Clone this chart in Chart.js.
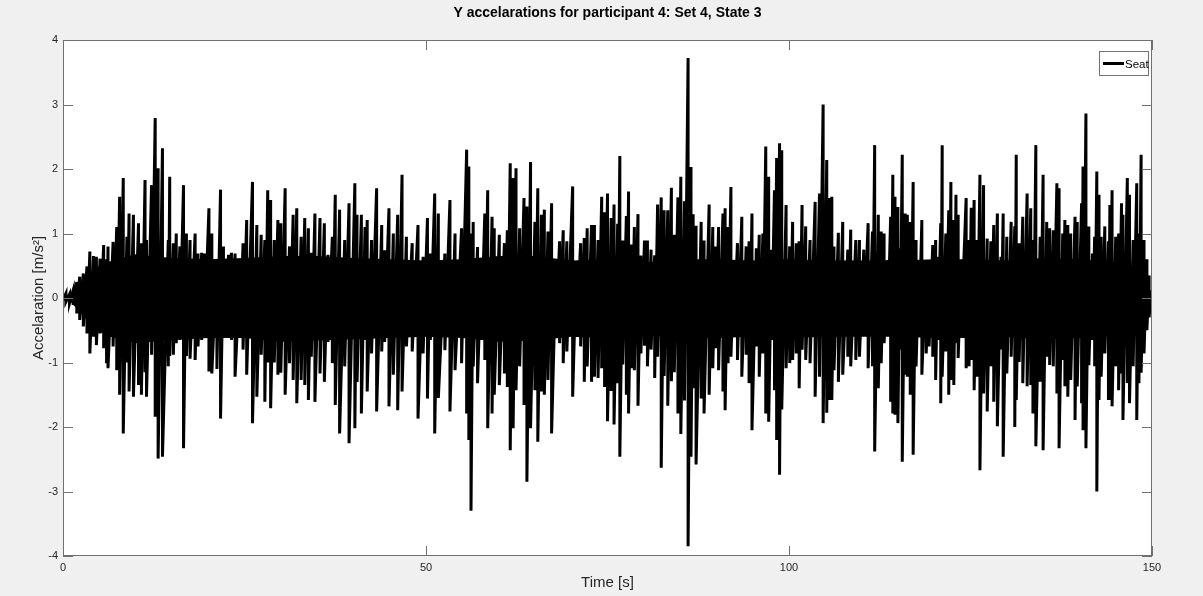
<!DOCTYPE html>
<html>
<head>
<meta charset="utf-8">
<title>Y accelarations</title>
<script src="https://cdn.jsdelivr.net/npm/chart.js@4.4.1/dist/chart.umd.min.js"></script>
<style>
  html, body { margin: 0; padding: 0; background: #f0f0f0; }
  #wrap { width: 1203px; height: 596px; position: relative; }
</style>
</head>
<body>
<div id="wrap"><canvas id="seatChart"></canvas></div>
<script>
// DATA
const chartTitle = 'Y accelarations for participant 4: Set 4, State 3';
const xLabel = 'Time [s]';
const yLabel = 'Accelaration [m/s²]';
const seriesName = 'Seat';
const xTicks = [0, 50, 100, 150];
const yTicks = [-4, -3, -2, -1, 0, 1, 2, 3, 4];

// peaks of the seat signal [s], max and min [m/s2]
const peakTime = [
  0.0, 0.4, 0.9, 1.4, 1.9, 2.3, 2.8, 3.3, 3.7, 4.2, 4.6, 5.1, 5.6, 6.0, 6.2, 6.9, 7.4, 7.8, 8.3, 8.8,
  9.1, 9.7, 10.4, 10.8, 11.3, 11.5, 12.2, 12.7, 13.1, 13.7, 14.5, 14.7, 15.2, 15.6, 16.1, 16.6, 17.0, 17.5, 18.2, 18.6,
  19.1, 19.5, 20.1, 20.5, 21.2, 21.7, 22.1, 22.8, 23.2, 23.7, 24.4, 24.8, 25.3, 26.1, 26.7, 27.3, 27.8, 28.2, 28.6, 29.1,
  29.6, 30.0, 30.6, 31.2, 31.7, 32.2, 32.8, 33.3, 33.8, 34.2, 34.7, 35.4, 36.0, 36.5, 37.1, 37.5, 38.1, 38.8, 39.4, 40.2,
  40.5, 41.1, 41.6, 41.9, 42.5, 43.2, 43.9, 44.3, 44.9, 45.5, 46.1, 46.7, 47.3, 48.1, 48.9, 49.6, 50.2, 50.6, 51.2, 51.7,
  52.6, 53.3, 54.0, 54.9, 55.6, 55.9, 56.2, 56.5, 57.1, 57.6, 58.1, 58.5, 59.1, 59.4, 60.1, 60.8, 61.2, 61.6, 62.0, 62.4,
  62.9, 63.5, 63.9, 64.4, 65.0, 65.4, 65.9, 66.3, 66.8, 67.3, 67.9, 68.4, 68.9, 69.4, 70.2, 70.7, 71.3, 71.8, 72.2, 72.8,
  73.2, 73.7, 74.2, 74.6, 75.0, 75.5, 75.9, 76.4, 76.7, 77.1, 77.6, 77.9, 78.3, 78.7, 79.2, 79.6, 80.1, 80.5, 81.0, 81.5,
  81.9, 82.4, 82.8, 83.3, 83.8, 84.2, 84.7, 85.1, 85.6, 86.1, 86.5, 86.8, 87.2, 87.9, 88.3, 89.0, 89.5, 89.9, 90.3, 90.9,
  91.2, 91.6, 92.0, 92.4, 92.9, 93.5, 94.1, 94.5, 94.9, 95.5, 95.9, 96.4, 96.8, 97.2, 97.6, 98.0, 98.3, 98.7, 99.0, 99.6,
  100.1, 100.5, 101.0, 101.4, 101.8, 102.3, 102.9, 103.6, 104.2, 104.7, 105.2, 105.5, 105.9, 106.2, 106.8, 107.4, 108.1, 108.5, 109.2, 109.7,
  110.3, 110.9, 111.5, 111.8, 112.3, 112.7, 113.1, 113.6, 114.0, 114.3, 114.6, 115.0, 115.3, 115.6, 116.0, 116.3, 116.7, 117.1, 117.5, 117.9,
  118.3, 118.9, 119.3, 119.8, 120.2, 120.5, 120.9, 121.1, 121.6, 122.0, 122.3, 122.7, 123.0, 123.3, 123.7, 124.4, 124.8, 125.1, 125.5, 125.9,
  126.3, 126.8, 127.3, 127.8, 128.2, 128.7, 129.2, 129.5, 130.0, 130.6, 131.1, 131.3, 131.7, 132.2, 132.8, 133.3, 133.6, 134.0, 134.6, 135.0,
  135.5, 135.9, 136.4, 136.9, 137.2, 137.7, 138.0, 138.4, 138.8, 139.4, 139.7, 140.3, 140.5, 140.9, 141.3, 141.8, 142.1, 142.4, 142.7, 143.0,
  143.5, 144.0, 144.2, 144.5, 145.0, 145.4, 145.8, 146.0, 146.6, 146.9, 147.4, 147.9, 148.2, 148.5, 148.9, 149.3, 149.6, 149.9, 150.0
];
const peakHigh = [
  0.03, 0.07, 0.06, 0.12, 0.25, 0.33, 0.38, 0.49, 0.72, 0.65, 0.64, 0.61, 0.82, 0.6, 0.8, 0.87, 1.1, 1.57, 1.86, 0.95,
  1.31, 1.29, 1.16, 0.85, 1.83, 0.9, 1.75, 2.79, 2.01, 2.32, 0.9, 1.88, 0.85, 1.0, 0.8, 1.75, 1.0, 0.9, 1.0, 0.69,
  0.7, 0.69, 1.39, 1.0, 0.59, 1.68, 0.8, 0.67, 0.7, 0.69, 0.48, 0.85, 1.21, 1.8, 1.13, 0.98, 0.9, 1.67, 1.52, 0.9,
  1.21, 1.16, 1.7, 0.8, 1.29, 1.39, 0.95, 1.24, 1.08, 0.7, 1.31, 1.24, 1.16, 0.67, 0.95, 1.6, 1.37, 0.9, 1.47, 1.78,
  1.29, 1.29, 1.1, 1.21, 0.9, 1.7, 1.13, 0.74, 1.39, 1.0, 1.29, 1.91, 0.95, 0.85, 1.13, 0.64, 1.24, 0.69, 1.62, 1.31,
  0.69, 1.52, 1.0, 1.08, 2.3, 2.04, 1.0, 1.18, 0.79, 0.54, 1.31, 1.67, 1.26, 1.08, 0.98, 0.85, 1.05, 2.09, 1.86, 2.01,
  1.08, 1.55, 1.42, 2.11, 1.18, 1.7, 1.29, 1.37, 1.03, 1.47, 0.54, 0.88, 1.05, 0.88, 1.73, 0.51, 0.85, 0.93, 1.08, 1.13,
  1.13, 0.9, 1.57, 1.33, 1.62, 1.24, 1.45, 1.15, 2.2, 0.89, 1.27, 1.65, 0.83, 1.1, 1.3, 0.66, 0.89, 0.89, 0.75, 0.66,
  1.45, 1.56, 1.36, 1.36, 1.71, 0.98, 1.56, 1.88, 1.5, 3.72, 2.03, 1.3, 1.12, 1.18, 0.89, 1.45, 1.1, 0.8, 1.1, 1.31,
  1.39, 1.1, 1.72, 0.38, 0.85, 1.26, 0.8, 0.88, 1.31, 0.77, 0.98, 1.0, 2.35, 1.88, 0.75, 1.67, 2.17, 2.4, 2.29, 1.44,
  0.8, 1.18, 0.85, 0.88, 1.44, 1.11, 0.9, 1.49, 1.62, 3.0, 2.14, 1.55, 1.57, 0.8, 1.01, 1.18, 0.75, 1.06, 0.9, 0.9,
  0.75, 1.16, 1.03, 2.37, 1.29, 1.03, 1.0, 0.59, 1.26, 1.91, 1.57, 1.41, 0.77, 2.22, 1.31, 1.29, 1.18, 1.8, 0.9, 0.59,
  1.21, 0.59, 0.59, 0.82, 0.9, 0.64, 1.16, 2.37, 1.0, 1.36, 1.8, 1.21, 1.6, 1.29, 0.44, 1.55, 0.9, 1.4, 1.52, 0.9,
  1.91, 1.75, 0.92, 0.88, 1.13, 1.31, 0.64, 1.31, 0.95, 1.18, 1.11, 2.22, 0.85, 1.26, 1.62, 1.39, 0.9, 2.37, 0.95, 1.91,
  1.18, 1.08, 1.05, 1.78, 1.7, 1.0, 1.21, 1.13, 1.0, 1.26, 1.18, 1.47, 2.04, 2.86, 1.11, 0.69, 0.95, 1.96, 1.6, 0.95,
  1.11, 0.88, 1.44, 1.67, 0.95, 1.0, 1.47, 1.29, 1.86, 1.6, 0.9, 1.78, 1.0, 2.22, 0.9, 0.6, 0.35, 0.12, 0.04
];
const peakLow = [
  -0.03, -0.06, -0.08, -0.11, -0.24, -0.34, -0.44, -0.55, -0.86, -0.6, -0.73, -0.55, -0.78, -1.01, -1.09, -0.75, -1.12, -1.5, -2.1, -1.0,
  -1.45, -1.53, -1.35, -1.5, -1.15, -1.53, -0.88, -1.84, -2.49, -2.46, -1.06, -0.9, -0.88, -0.7, -0.65, -2.33, -0.9, -0.94, -0.96, -0.75,
  -0.65, -0.55, -1.14, -1.17, -1.1, -1.87, -0.6, -0.5, -0.65, -1.22, -0.6, -0.8, -1.19, -1.94, -1.53, -0.88, -1.61, -1.0, -1.71, -1.0,
  -1.19, -1.16, -1.5, -1.01, -1.27, -1.63, -1.27, -1.35, -1.58, -0.91, -1.61, -1.17, -1.3, -0.68, -1.01, -1.66, -2.1, -1.06, -2.25, -2.02,
  -1.3, -1.79, -0.65, -1.45, -0.86, -1.76, -0.83, -0.68, -1.68, -1.19, -1.74, -1.45, -0.75, -0.83, -1.87, -0.86, -1.56, -0.65, -2.1, -1.55,
  -0.81, -1.76, -1.12, -1.01, -1.79, -2.2, -3.3, -1.06, -1.32, -0.65, -0.96, -2.02, -1.79, -1.5, -1.35, -1.17, -1.38, -2.36, -2.02, -1.43,
  -1.06, -1.66, -2.85, -2.02, -1.43, -2.23, -1.45, -1.5, -1.27, -2.1, -0.55, -0.7, -1.01, -0.83, -1.53, -0.6, -0.75, -1.3, -1.06, -1.3,
  -1.22, -1.24, -1.09, -1.38, -1.91, -1.44, -1.96, -1.32, -2.46, -1.03, -1.5, -1.79, -1.09, -1.12, -1.67, -0.86, -0.74, -1.06, -0.8, -1.24,
  -0.91, -2.63, -1.21, -1.67, -1.29, -1.15, -1.79, -2.11, -1.59, -3.85, -2.46, -1.4, -2.58, -1.56, -1.79, -1.5, -1.09, -0.78, -1.12, -1.45,
  -1.74, -1.01, -0.91, -0.6, -0.96, -1.22, -0.88, -1.32, -2.05, -0.75, -1.22, -0.86, -1.79, -1.92, -0.65, -1.43, -2.2, -2.74, -1.73, -1.09,
  -1.01, -0.96, -0.86, -1.4, -0.8, -0.96, -1.01, -1.53, -1.22, -1.94, -1.78, -1.58, -1.58, -1.12, -1.3, -1.19, -0.91, -1.06, -0.96, -0.91,
  -0.55, -1.09, -1.06, -2.38, -1.4, -1.01, -0.7, -0.5, -1.61, -1.79, -1.81, -1.94, -0.8, -2.54, -1.19, -1.22, -1.5, -2.43, -1.06, -0.55,
  -1.19, -0.86, -0.75, -0.91, -1.27, -0.65, -1.63, -1.22, -0.83, -1.5, -1.27, -1.35, -0.7, -0.93, -0.6, -1.09, -1.06, -0.96, -1.43, -1.22,
  -2.67, -1.48, -1.76, -1.06, -1.61, -1.99, -0.8, -2.46, -1.17, -0.91, -2.0, -1.58, -0.99, -1.32, -1.37, -1.35, -1.79, -2.3, -1.3, -2.36,
  -0.91, -1.04, -1.06, -1.48, -2.33, -0.96, -1.37, -1.53, -1.27, -1.89, -1.37, -1.63, -2.05, -2.33, -1.04, -0.65, -1.06, -3.0, -1.58, -1.22,
  -0.86, -1.58, -1.58, -1.68, -1.06, -1.43, -1.17, -1.89, -1.32, -1.63, -1.06, -1.89, -1.32, -1.16, -0.86, -0.5, -0.3, -0.1, -0.04
];

// dense centre band of the signal (where the trace is solid black)
const coreTime = [0, 1, 2, 3, 4, 5, 6, 8, 10, 15, 20, 25, 30, 35, 40, 45, 50, 55, 60, 65,
  70, 75, 80, 85, 90, 95, 100, 105, 110, 115, 120, 125, 130, 135, 140, 145, 147, 148.5, 149.5, 150];
const coreHigh = [0.02, 0.05, 0.18, 0.28, 0.42, 0.5, 0.55, 0.62, 0.68, 0.62, 0.6, 0.62, 0.65, 0.65, 0.62, 0.6, 0.58, 0.6, 0.65, 0.65,
  0.58, 0.6, 0.55, 0.6, 0.6, 0.58, 0.6, 0.58, 0.58, 0.58, 0.6, 0.6, 0.58, 0.62, 0.6, 0.55, 0.5, 0.35, 0.12, 0.03];
const coreLow = [-0.02, -0.05, -0.18, -0.3, -0.45, -0.52, -0.58, -0.65, -0.7, -0.65, -0.62, -0.62, -0.68, -0.66, -0.64, -0.62, -0.6, -0.62, -0.68, -0.66,
  -0.6, -0.62, -0.58, -0.62, -0.62, -0.6, -0.62, -0.6, -0.6, -0.6, -0.62, -0.62, -0.6, -0.64, -0.62, -0.58, -0.5, -0.35, -0.12, -0.03];
// ----------------

// each peak pair becomes one vertical stroke
const seatPoints = [];
peakTime.forEach((t, i) => {
    seatPoints.push({ x: t, y: peakHigh[i] });
    seatPoints.push({ x: t, y: peakLow[i] });
});
const coreTop = coreTime.map((t, i) => ({ x: t, y: coreHigh[i] }));
const coreBottom = coreTime.map((t, i) => ({ x: t, y: coreLow[i] }));

const fontName = '"Liberation Sans", Arial, Helvetica, sans-serif';
const axisColor = '#262626';
const boxColor = '#707070';

// figure background, axes box, inward ticks, titles and legend
const matlabLook = {
    id: 'matlabLook',
    beforeDraw(chart) {
        const { ctx, chartArea: a } = chart;
        ctx.save();
        ctx.fillStyle = '#f0f0f0';
        ctx.fillRect(0, 0, chart.width, chart.height);
        ctx.fillStyle = '#ffffff';
        ctx.fillRect(a.left, a.top, a.right - a.left, a.bottom - a.top);
        ctx.restore();
    },
    afterDraw(chart) {
        const { ctx, chartArea: a, scales } = chart;
        ctx.save();
        ctx.strokeStyle = boxColor;
        ctx.lineWidth = 1;
        ctx.strokeRect(a.left + 0.5, a.top + 0.5, a.right - a.left - 1, a.bottom - a.top - 1);
        const tick = 10;
        ctx.beginPath();
        xTicks.forEach(v => {
            const px = Math.round(scales.x.getPixelForValue(v)) + 0.5;
            ctx.moveTo(px, a.bottom); ctx.lineTo(px, a.bottom - tick);
            ctx.moveTo(px, a.top); ctx.lineTo(px, a.top + tick);
        });
        yTicks.forEach(v => {
            const py = Math.round(scales.y.getPixelForValue(v)) + 0.5;
            ctx.moveTo(a.left, py); ctx.lineTo(a.left + tick, py);
            ctx.moveTo(a.right, py); ctx.lineTo(a.right - tick, py);
        });
        ctx.stroke();

        // title
        ctx.fillStyle = '#000000';
        ctx.font = 'bold 14px ' + fontName;
        ctx.textAlign = 'center';
        ctx.textBaseline = 'middle';
        ctx.fillText(chartTitle, (a.left + a.right) / 2, 13);

        // axis labels
        ctx.fillStyle = axisColor;
        ctx.font = '15px ' + fontName;
        ctx.fillText(xLabel, (a.left + a.right) / 2, 583);
        ctx.save();
        ctx.translate(39, (a.top + a.bottom) / 2);
        ctx.rotate(-Math.PI / 2);
        ctx.fillText(yLabel, 0, 0);
        ctx.restore();

        // legend
        const lx = 1099, ly = 51, lw = 50, lh = 25;
        ctx.fillStyle = '#ffffff';
        ctx.fillRect(lx, ly, lw, lh);
        ctx.strokeStyle = boxColor;
        ctx.strokeRect(lx + 0.5, ly + 0.5, lw - 1, lh - 1);
        ctx.strokeStyle = '#000000';
        ctx.lineWidth = 3;
        ctx.beginPath();
        ctx.moveTo(lx + 4, ly + lh / 2);
        ctx.lineTo(lx + 25, ly + lh / 2);
        ctx.stroke();
        ctx.fillStyle = '#000000';
        ctx.font = '11.5px ' + fontName;
        ctx.textAlign = 'left';
        ctx.fillText(chart.data.datasets[0].label, lx + 26, ly + lh / 2 + 1);
        ctx.restore();
    }
};

const seatChart = new Chart(document.getElementById('seatChart'), {
    type: 'line',
    data: {
        datasets: [{
            label: seriesName,
            data: seatPoints,
            borderColor: '#000000',
            borderWidth: 3,
            pointRadius: 0,
            tension: 0,
            fill: false
        }, {
            label: 'core top',
            data: coreTop,
            borderColor: '#000000',
            borderWidth: 0,
            pointRadius: 0,
            fill: false
        }, {
            label: 'core bottom',
            data: coreBottom,
            borderColor: '#000000',
            backgroundColor: '#000000',
            borderWidth: 0,
            pointRadius: 0,
            fill: '-1'
        }]
    },
    options: {
        responsive: true,
        maintainAspectRatio: false,
        animation: false,
        events: [],
        layout: { padding: { left: 0, right: 51, top: 40, bottom: 0 } },
        plugins: {
            legend: { display: false },
            title: { display: false },
            tooltip: { enabled: false }
        },
        scales: {
            x: {
                type: 'linear',
                min: 0,
                max: 150,
                grid: { display: false, drawTicks: false },
                border: { display: false },
                afterBuildTicks: scale => { scale.ticks = xTicks.map(v => ({ value: v })); },
                afterFit: scale => { scale.height = 40; },
                ticks: {
                    color: axisColor,
                    padding: 5,
                    maxRotation: 0,
                    font: { family: fontName, size: 11 }
                }
            },
            y: {
                min: -4,
                max: 4,
                grid: { display: false, drawTicks: false },
                border: { display: false },
                afterBuildTicks: scale => { scale.ticks = yTicks.map(v => ({ value: v })); },
                afterFit: scale => { scale.width = 63; },
                ticks: {
                    color: axisColor,
                    padding: 5,
                    font: { family: fontName, size: 11 }
                }
            }
        }
    },
    plugins: [matlabLook]
});
</script>
</body>
</html>
